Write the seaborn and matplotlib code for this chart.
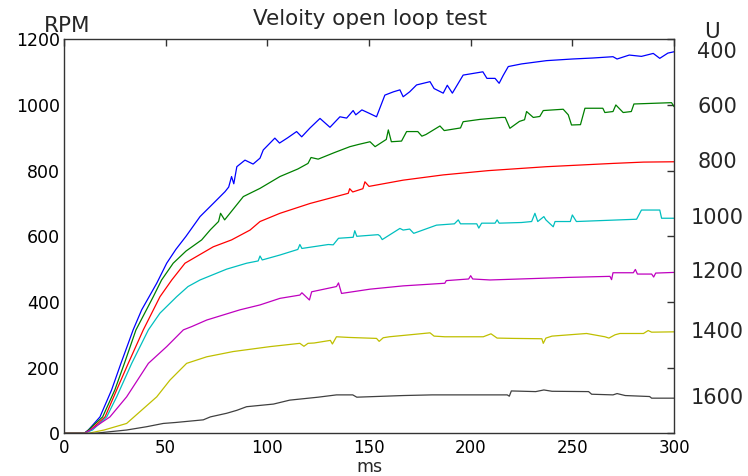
import matplotlib
matplotlib.use("Agg")
import matplotlib.pyplot as plt
import seaborn as sns
import pandas as pd
import matplotlib.transforms as mtransforms

# ---- data ----
u_labels = ["400", "600", "800", "1000", "1200", "1400", "1600"]

t_blue = [0, 10, 12, 17.7, 23.4, 28, 31.6, 34, 38.2, 45.6, 50.5, 55, 60, 66.9, 73.4, 79.2, 81, 82.4, 83.5, 85, 89, 93, 96.4, 98,
          103.7, 106, 110, 114.4, 116.9, 121, 125.9, 130.8, 135.7, 139, 142.2, 143.5, 146.5, 150, 153.7, 157.8, 162, 165.2,
          166.8, 170, 173.4, 180, 182, 186.5, 188.5, 191, 196.3, 206, 208, 212, 214, 216, 218.5, 225, 237.3, 250, 260, 270,
          272, 278, 284, 289.8, 293, 297, 300]
v_blue = [0, 0, 10, 50, 132, 213, 274, 315, 376, 457, 518, 560, 600, 660, 700, 736, 750, 782, 760, 812, 832, 820, 838, 863,
          899, 884, 900, 919, 903, 930, 959, 932, 964, 960, 983, 970, 985, 975, 964, 1030, 1040, 1046,
          1025, 1040, 1061, 1071, 1050, 1036, 1060, 1036, 1091, 1101, 1081, 1081, 1066, 1090, 1117, 1125, 1135, 1140, 1143, 1147,
          1140, 1152, 1148, 1157, 1142, 1158, 1162]

t_green = [0, 10, 12, 19, 25, 29.7, 35.4, 43.9, 48, 53.7, 60, 67.7, 72, 76, 77, 79, 88.2, 96.4, 106.2, 115, 120, 121.5, 125,
           133, 140.6, 145, 150.5, 153, 158.5, 159.5, 161, 166, 168.5, 174, 176, 178, 184.9, 187, 195, 196.3, 204.5, 215.2,
           217, 219.3, 224, 226.5, 227.5, 230.8, 234, 235.7, 245.5, 248, 249.6, 254, 256.2, 265, 266, 270, 271.4, 275, 279,
           280.3, 298.8, 300]
v_green = [0, 0, 10, 50, 132, 213, 315, 416, 467, 518, 555, 589, 620, 645, 670, 650, 721, 746, 782, 805, 822, 840, 835,
           855, 873, 880, 888, 873, 895, 924, 888, 890, 919, 919, 905, 910, 936, 922, 930, 949, 956, 962,
           962, 929, 950, 955, 980, 962, 965, 983, 987, 970, 939, 940, 990, 990, 977, 980, 1000, 977, 980,
           1003, 1007, 995]

t_red = [0, 10, 13, 20.2, 25.9, 31.6, 39, 47.2, 53, 59.5, 73.4, 82.4, 91.5, 96.4, 106.2, 121, 139.8, 140.5, 142, 147, 148,
         150, 166.8, 186.5, 208.6, 237.3, 270, 285, 300]
v_red = [0, 0, 10, 50, 132, 213, 315, 416, 467, 518, 568, 589, 619, 645, 670, 700, 731, 745, 735, 745, 766,
         752, 771, 787, 800, 812, 822, 826, 827]

t_cyan = [0, 10, 14, 21, 25.9, 33.3, 41.5, 47.2, 55.4, 61, 66.9, 80, 89.8, 95.5, 96.4, 97.5, 106.2, 115, 116, 117, 130,
          132.4, 135, 142.2, 143, 144, 154.5, 155.4, 156.5, 165.2, 166.8, 170, 172, 183.2, 192, 193.9, 195, 203, 204, 205.4,
          212, 213, 214, 225, 230, 231.6, 233, 236, 237, 240.6, 241.5, 249, 250, 252, 281.6, 284, 293, 293.9, 300]
v_cyan = [0, 0, 10, 50, 111, 213, 315, 366, 416, 447, 467, 500, 518, 525, 540, 528, 543, 560, 575, 563, 575,
          574, 594, 597, 617, 600, 605, 601, 590, 624, 619, 622, 609, 634, 638, 650, 638, 638, 625, 640,
          640, 650, 640, 642, 645, 670, 645, 660, 650, 629, 645, 645, 665, 645, 652, 680, 680, 655, 655]

t_mag = [0, 10, 13, 22.6, 30.8, 41.5, 50.5, 58.7, 62.8, 70.2, 86.5, 96.4, 106.2, 116, 117, 120.7, 121.8, 134, 135, 136.5,
         150.5, 166.8, 187.3, 188, 199, 200, 201, 209.5, 248.8, 268.5, 269.3, 270, 280, 281, 282, 289, 290, 291, 300]
v_mag = [0, 0, 10, 50, 111, 213, 264, 315, 325, 345, 376, 391, 411, 421, 428, 406, 431, 447, 458, 426,
         439, 449, 457, 465, 470, 480, 470, 467, 475, 478, 468, 489, 489, 499, 485, 485, 476, 488, 490]

t_yel = [0, 12, 19.7, 30.8, 45.6, 52.1, 60.3, 70.2, 83.2, 101.3, 116, 118, 120, 123, 131, 132, 134, 140, 153.7, 155, 157,
         160, 173.4, 180, 182, 187.3, 206.2, 210, 213, 221, 235, 235.7, 237, 240, 257, 266, 268, 271, 273.4, 285, 287.3,
         289, 300]
v_yel = [0, 0, 10, 30, 111, 162, 213, 233, 249, 264, 274, 265, 274, 275, 283, 272, 294, 292, 289, 280, 291,
         294, 302, 306, 296, 294, 294, 303, 290, 289, 288, 274, 290, 296, 304, 294, 290, 300, 304, 304, 313,
         308, 309]

t_gray = [0, 15, 30.8, 40.6, 48.8, 55, 68.5, 72, 80, 85, 89.8, 103, 111, 125, 134, 142, 144, 166.8, 181, 197, 204.5, 218,
          219, 220, 232, 236, 240, 258, 259.5, 270, 272, 276, 288, 289, 300]
v_gray = [0, 0, 10, 20, 30, 33, 41, 50, 61, 70, 81, 89, 101, 110, 117, 117, 110, 115, 117, 117, 117, 117,
          113, 129, 127, 132, 128, 127, 119, 117, 121, 115, 112, 107, 107]

x_ticks = [0, 50, 100, 150, 200, 250, 300]
y_ticks = [0, 200, 400, 600, 800, 1000, 1200]

series = [(t_blue, v_blue), (t_green, v_green), (t_red, v_red), (t_cyan, v_cyan),
          (t_mag, v_mag), (t_yel, v_yel), (t_gray, v_gray)]
colors = ["#0000ff", "#008000", "#ff0000", "#00bfbf", "#bf00bf", "#bfbf00", "#404040"]

frames = []
for lab, (t, v) in zip(u_labels, series):
    frames.append(pd.DataFrame({"ms": t, "RPM": v, "U": lab}))
df = pd.concat(frames, ignore_index=True)

sns.set_theme(style="white")
plt.rcParams["font.family"] = ["DejaVu Sans"]

fig = plt.figure(figsize=(7.48, 4.76), dpi=100)
ax = fig.add_axes([64 / 748, 1 - 433.3 / 476, 610 / 748, 394 / 476])

sns.lineplot(data=df, x="ms", y="RPM", hue="U", palette=dict(zip(u_labels, colors)),
             estimator=None, sort=False, linewidth=0.9, legend=False, ax=ax)

ax.set_xlim(0, 300)
ax.set_ylim(0, 1200)
ax.set_xticks(x_ticks)
ax.set_yticks(y_ticks)
ax.tick_params(direction="in", length=5, width=1, color="#333333", top=True, right=True,
               labelsize=12.5, labelcolor="black")
ax.tick_params(axis="x", labelsize=12, pad=4)
ax.tick_params(axis="y", pad=3)
for s in ax.spines.values():
    s.set_visible(True)
    s.set_color("#333333")
    s.set_linewidth(1)
ax.set_ylabel("")
ax.set_xlabel("ms", fontsize=12.5, labelpad=0.5)

fig.text(370 / 748, 1 - 25 / 476, "Veloity open loop test", ha="center", va="baseline", fontsize=15.5)
fig.text(67 / 748, 1 - 32.3 / 476, "RPM", ha="center", va="baseline", fontsize=15.5)
fig.text(712 / 748, 1 - 38.5 / 476, "U", ha="center", va="baseline", fontsize=15.5)

trans = mtransforms.blended_transform_factory(ax.transAxes, ax.transData)
for lab, (t, v) in zip(u_labels, series):
    ax.text(1.0705, v[-1], lab, transform=trans, ha="center", va="center", fontsize=15, clip_on=False)

fig.savefig("out.png", dpi=100)
